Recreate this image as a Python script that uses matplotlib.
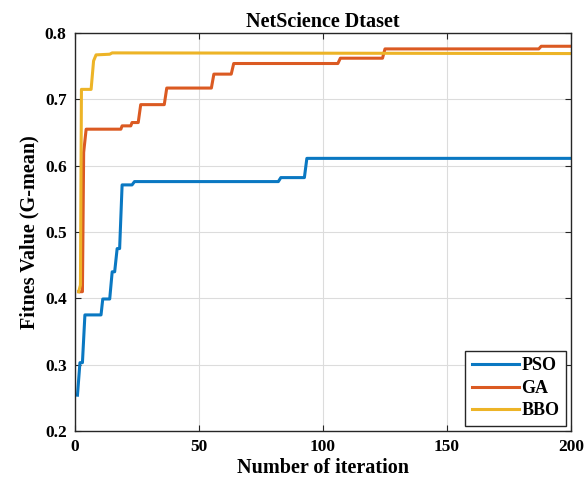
import matplotlib
matplotlib.use('Agg')
import matplotlib.pyplot as plt

plt.rcParams['font.family'] = 'Liberation Serif'
plt.rcParams['font.weight'] = 'bold'

# curve vertices (iteration, fitness)
pso_x = [1, 2, 3, 4, 10.5, 11.2, 14, 15, 16, 17, 18, 19, 23, 24, 82, 83, 92.5, 93.5, 200]
pso_y = [0.254, 0.303, 0.303, 0.375, 0.375, 0.399, 0.399, 0.44, 0.44, 0.475, 0.475,
         0.571, 0.571, 0.576, 0.576, 0.582, 0.582, 0.611, 0.611]

ga_x = [1.5, 3, 3.5, 4.5, 18.5, 19, 22.5, 23, 25.5, 26.5, 36, 37, 55, 56, 63, 64,
        106, 107, 124, 125, 187, 188, 200]
ga_y = [0.41, 0.41, 0.62, 0.655, 0.655, 0.66, 0.66, 0.665, 0.665, 0.692, 0.692, 0.717,
        0.717, 0.738, 0.738, 0.754, 0.754, 0.762, 0.762, 0.776, 0.776, 0.78, 0.78]

bbo_x = [1.5, 2.2, 2.6, 6.5, 7.5, 8.5, 14, 15, 200]
bbo_y = [0.41, 0.42, 0.715, 0.715, 0.758, 0.767, 0.768, 0.77, 0.769]

xticks = [0, 50, 100, 150, 200]
yticks = [0.2, 0.3, 0.4, 0.5, 0.6, 0.7, 0.8]

fig = plt.figure(figsize=(5.84, 4.91), dpi=100)
ax = fig.add_axes([0.1284, 0.1222, 0.8493, 0.8106])

ax.plot(pso_x, pso_y, color='#0a78c2', lw=2.2, label='PSO')
ax.plot(ga_x, ga_y, color='#db5a22', lw=2.2, label='GA')
ax.plot(bbo_x, bbo_y, color='#edb427', lw=2.2, label='BBO')

ax.set_xlim(0, 200)
ax.set_ylim(0.2, 0.8)
ax.set_xticks(xticks)
ax.set_yticks(yticks)
ax.set_xticklabels([str(t) for t in xticks])
ax.set_yticklabels([('%.1f' % t) for t in yticks])
ax.tick_params(direction='in', top=True, right=True, labelsize=12.5, length=4,
               width=0.8, color='#262626', pad=6)
ax.grid(True, color='#dcdcdc', lw=0.8)
for s in ax.spines.values():
    s.set_color('#262626')
    s.set_linewidth(1.0)

ax.set_title('NetScience Dtaset', fontsize=14.5, fontweight='bold', pad=4)
ax.set_xlabel('Number of iteration', fontsize=14.5, fontweight='bold', labelpad=2)
ax.set_ylabel('Fitnes Value (G-mean)', fontsize=14.5, fontweight='bold', labelpad=4)

leg = ax.legend(loc='lower right', fontsize=13, fancybox=False, framealpha=1,
                edgecolor='#262626', handlelength=2.6, handletextpad=0.15,
                borderpad=0.35, labelspacing=0.3, borderaxespad=0.3)
leg.get_frame().set_linewidth(1.0)

fig.savefig('out.png', dpi=100)
